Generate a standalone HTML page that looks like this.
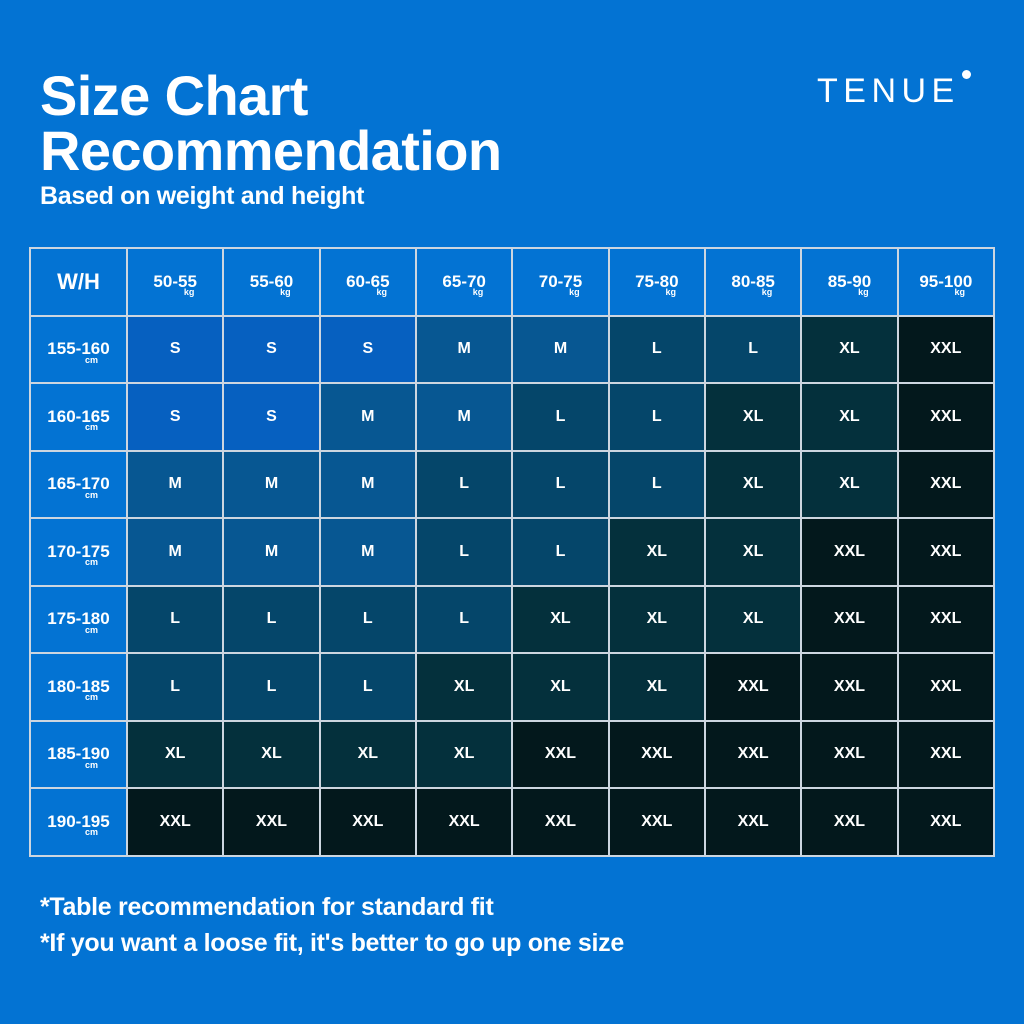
<!DOCTYPE html>
<html><head><meta charset="utf-8"><style>
body{margin:0;width:1024px;height:1024px;background:#0373d3;font-family:"Liberation Sans",sans-serif;color:#fff;position:relative;overflow:hidden}
.t{position:absolute;left:40px;font-weight:bold;letter-spacing:-0.6px;font-size:56px;line-height:1}
.sub{position:absolute;left:40px;top:182px;font-weight:bold;font-size:25px;letter-spacing:-0.3px}
.logo{position:absolute;left:817px;top:72px;font-size:34px;letter-spacing:5.5px}
.dot{position:absolute;left:962px;top:70px;width:9px;height:9px;border-radius:50%;background:#fff}
table{position:absolute;left:29px;top:247px;width:966px;height:608px;border-collapse:collapse;table-layout:fixed}
td{border:2px solid #cdd6e0;text-align:center;font-weight:bold;font-size:16px;padding:0;height:65.5px}
td.h{font-size:17px;background:#0373d3;position:relative}
td.h sub{position:absolute;font-size:9px;right:28px;top:38px}
td.w{font-size:22px;background:#0373d3}
.S{background:#0660c0}.M{background:#075792}.L{background:#05466a}.X{background:#04303c}.Z{background:#03181c}
.f{position:absolute;left:40px;font-weight:bold;font-size:25px;letter-spacing:-0.3px}
</style></head><body>
<div class="t" style="top:68px">Size Chart</div>
<div class="t" style="top:123px">Recommendation</div>
<div class="sub">Based on weight and height</div>
<div class="logo">TENUE</div><div class="dot"></div>
<table>
<colgroup><col style="width:97px"><col span="9"></colgroup>
<tr><td class="w">W/H</td><td class="h">50-55<sub>kg</sub></td><td class="h">55-60<sub>kg</sub></td><td class="h">60-65<sub>kg</sub></td><td class="h">65-70<sub>kg</sub></td><td class="h">70-75<sub>kg</sub></td><td class="h">75-80<sub>kg</sub></td><td class="h">80-85<sub>kg</sub></td><td class="h">85-90<sub>kg</sub></td><td class="h">95-100<sub>kg</sub></td></tr>
<tr><td class="h">155-160<sub>cm</sub></td><td class="S">S</td><td class="S">S</td><td class="S">S</td><td class="M">M</td><td class="M">M</td><td class="L">L</td><td class="L">L</td><td class="X">XL</td><td class="Z">XXL</td></tr>
<tr><td class="h">160-165<sub>cm</sub></td><td class="S">S</td><td class="S">S</td><td class="M">M</td><td class="M">M</td><td class="L">L</td><td class="L">L</td><td class="X">XL</td><td class="X">XL</td><td class="Z">XXL</td></tr>
<tr><td class="h">165-170<sub>cm</sub></td><td class="M">M</td><td class="M">M</td><td class="M">M</td><td class="L">L</td><td class="L">L</td><td class="L">L</td><td class="X">XL</td><td class="X">XL</td><td class="Z">XXL</td></tr>
<tr><td class="h">170-175<sub>cm</sub></td><td class="M">M</td><td class="M">M</td><td class="M">M</td><td class="L">L</td><td class="L">L</td><td class="X">XL</td><td class="X">XL</td><td class="Z">XXL</td><td class="Z">XXL</td></tr>
<tr><td class="h">175-180<sub>cm</sub></td><td class="L">L</td><td class="L">L</td><td class="L">L</td><td class="L">L</td><td class="X">XL</td><td class="X">XL</td><td class="X">XL</td><td class="Z">XXL</td><td class="Z">XXL</td></tr>
<tr><td class="h">180-185<sub>cm</sub></td><td class="L">L</td><td class="L">L</td><td class="L">L</td><td class="X">XL</td><td class="X">XL</td><td class="X">XL</td><td class="Z">XXL</td><td class="Z">XXL</td><td class="Z">XXL</td></tr>
<tr><td class="h">185-190<sub>cm</sub></td><td class="X">XL</td><td class="X">XL</td><td class="X">XL</td><td class="X">XL</td><td class="Z">XXL</td><td class="Z">XXL</td><td class="Z">XXL</td><td class="Z">XXL</td><td class="Z">XXL</td></tr>
<tr><td class="h">190-195<sub>cm</sub></td><td class="Z">XXL</td><td class="Z">XXL</td><td class="Z">XXL</td><td class="Z">XXL</td><td class="Z">XXL</td><td class="Z">XXL</td><td class="Z">XXL</td><td class="Z">XXL</td><td class="Z">XXL</td></tr>
</table>
<div class="f" style="top:893px">*Table recommendation for standard fit</div>
<div class="f" style="top:929px">*If you want a loose fit, it's better to go up one size</div>
</body></html>
